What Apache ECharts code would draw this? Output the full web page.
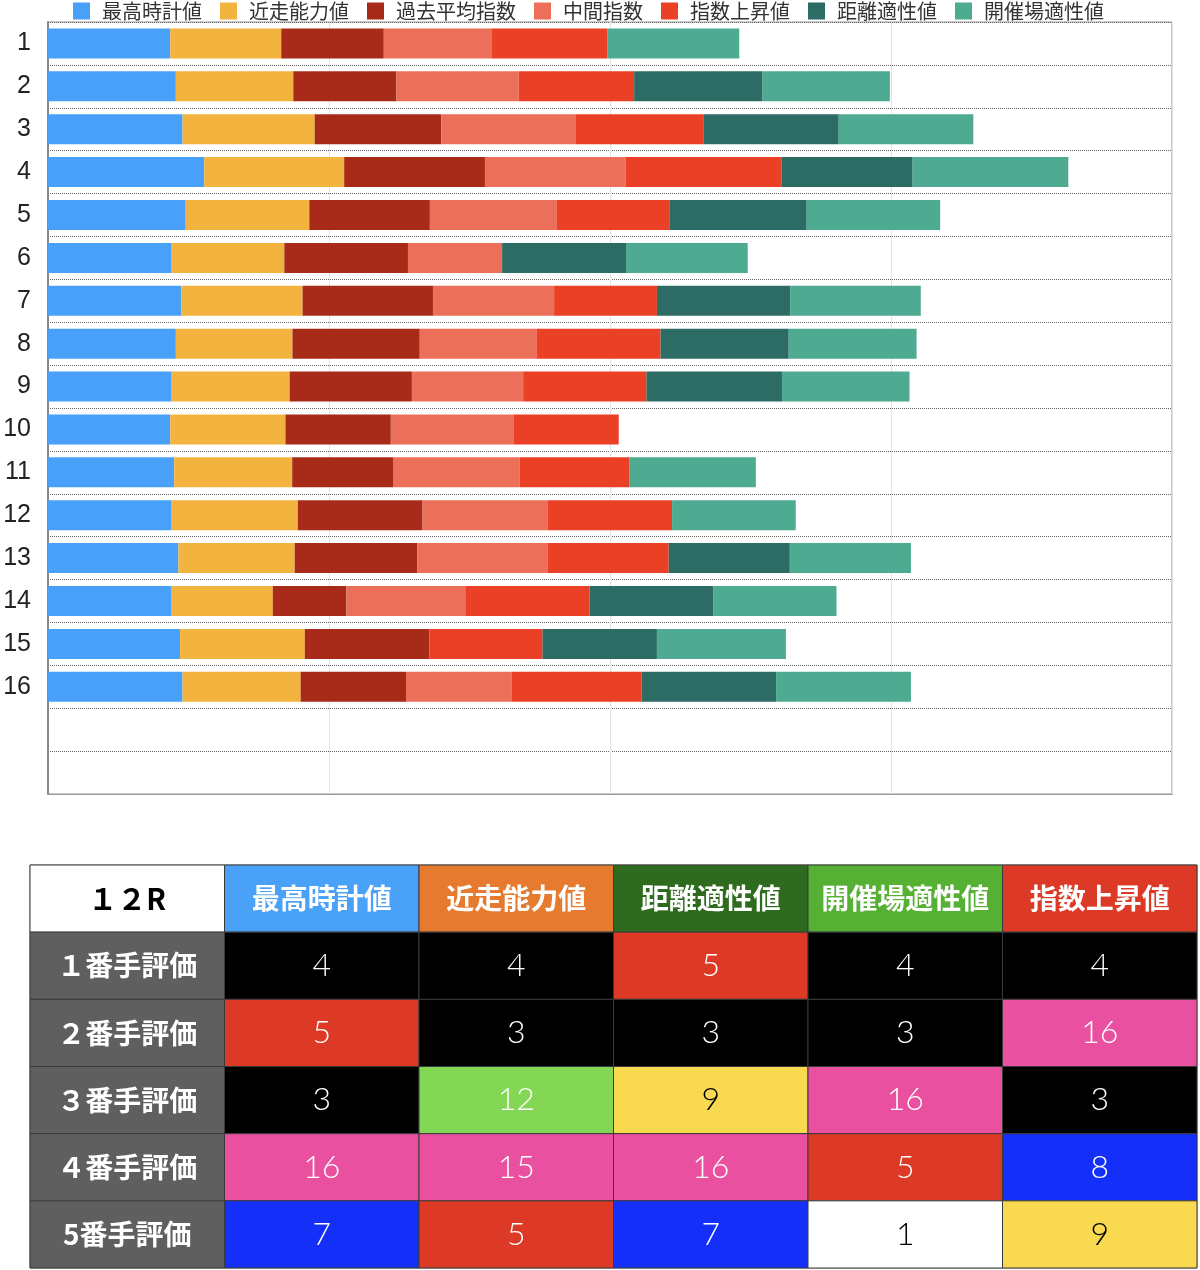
<!DOCTYPE html>
<html>
<head>
<meta charset="utf-8">
<script src="https://cdn.jsdelivr.net/npm/echarts@6/dist/echarts.min.js"></script>
<style>
html,body{margin:0;padding:0;background:#fff;}
#main{width:1200px;height:1270px;}
</style>
</head>
<body>
<div id="main"></div>
<script>
// ---------- data ----------
const categories = ['1','2','3','4','5','6','7','8','9','10','11','12','13','14','15','16','',''];
const seriesNames = ['最高時計値','近走能力値','過去平均指数','中間指数','指数上昇値','距離適性値','開催場適性値'];
const bestTime   = [43.5,45.5,47.9,55.6,49.0,44.0,47.4,45.5,44.0,43.5,44.9,44.0,46.4,44.0,47.0,47.9];
const recentForm = [39.5,41.8,47.0,49.8,44.0,40.1,43.2,41.5,42.0,41.0,42.0,44.9,41.4,36.0,44.4,42.0];
const pastAvg    = [36.5,36.7,45.1,50.1,42.9,44.0,46.4,45.3,43.5,37.5,36.1,44.4,43.7,26.2,44.3,37.5];
const midIndex   = [38.5,43.5,47.9,50.0,45.2,33.5,43.1,41.7,39.6,43.6,44.9,44.6,46.4,42.3,0,37.7];
const indexRise  = [41.0,41.1,45.5,55.5,40.0,0,36.6,44.0,43.9,37.5,39.1,44.2,43.0,44.2,40.3,46.1];
const distance   = [0,45.7,48.0,46.7,48.9,44.1,47.4,45.6,48.2,0,0,0,43.1,44.0,40.7,47.9];
const venue      = [47.0,45.3,47.9,55.4,47.5,43.3,46.5,45.5,45.4,0,44.9,44.0,43.1,43.9,45.9,48.0];
const seriesValues = [bestTime, recentForm, pastAvg, midIndex, indexRise, distance, venue];

const tableCorner = '１２R';
const tableHeaders = ['最高時計値','近走能力値','距離適性値','開催場適性値','指数上昇値'];
const rankLabels = ['１番手評価','２番手評価','３番手評価','４番手評価','5番手評価'];
const rankings = [
  [4,4,5,4,4],
  [5,3,3,3,16],
  [3,12,9,16,3],
  [16,15,16,5,8],
  [7,5,7,1,9]
];

// ---------- styles ----------
const barColors = ['#48a0f8','#f3b33f','#a82b1a','#ec6f5a','#ea4025','#2d6b65','#4eaa90'];
const headerColors = ['#ffffff','#49a1f8','#e67b30','#2f6b1f','#55b034','#dc3a26'];
const frameColors = ['#ffffff','#000000','#dc3a26','#1430f8','#f8d94f','#84d755','#f08a30','#e951a0'];
const frameText   = ['#000000','#ffffff','#ffffff','#ffffff','#000000','#ffffff','#ffffff','#ffffff'];
const jpFont = '"Noto Sans CJK JP", "Noto Sans", sans-serif';

// build table cells
const cells = [];
const cellData = [];
function addCell(col,row,text,bg,fg,font){
  cells.push({text:text,bg:bg,fg:fg,font:font});
  cellData.push([col,row]);
}
addCell(0,0,tableCorner,headerColors[0],'#000','bold 29px '+jpFont);
tableHeaders.forEach((h,i)=>addCell(i+1,0,h,headerColors[i+1],'#fff','bold 28px '+jpFont));
rankLabels.forEach((lab,r)=>{
  addCell(0,r+1,lab,'#5f5f5f','#fff','bold 28px '+jpFont);
  rankings[r].forEach((n,c)=>{
    const f = Math.ceil(n/2)-1;
    addCell(c+1,r+1,String(n),frameColors[f],frameText[f],'300 32px Lato, "Noto Sans", sans-serif');
  });
});

const chart = echarts.init(document.getElementById('main'));
const barSeries = seriesNames.map((name,i)=>({
  name:name, type:'bar', stack:'total', xAxisIndex:0, yAxisIndex:0,
  barWidth:30,
  itemStyle:{color:barColors[i]},
  data:seriesValues[i].map(v=> v===0 ? '-' : v)
}));

chart.setOption({
  animation:false,
  backgroundColor:'#fff',
  textStyle:{fontFamily:jpFont},
  legend:{
    top:1, left:73, padding:0,
    data:seriesNames,
    icon:'rect', itemWidth:17, itemHeight:17, itemGap:18,
    textStyle:{fontSize:20,color:'#333',fontFamily:jpFont,padding:[0,0,0,7]}
  },
  grid:[
    {left:48, top:22, width:1124, height:772, show:true, borderColor:'#999', borderWidth:1},
    {left:30, top:865, width:1167, height:403, show:true, borderColor:'#777', borderWidth:1}
  ],
  xAxis:[
    {type:'value', gridIndex:0, min:0, max:400, interval:100,
     axisLabel:{show:false}, axisTick:{show:false},
     axisLine:{show:true,lineStyle:{color:'#999'}},
     splitLine:{show:true,lineStyle:{color:'#e2e2e2',width:1}}},
    {type:'category', gridIndex:1, data:[0,1,2,3,4,5], show:false}
  ],
  yAxis:[
    {type:'category', gridIndex:0, data:categories, inverse:true,
     axisTick:{show:false},
     axisLine:{show:true,lineStyle:{color:'#888',width:2}},
     axisLabel:{fontSize:25,color:'#222',margin:17,fontFamily:'"Liberation Sans Narrow", "Liberation Sans", Arial, sans-serif'},
     splitLine:{show:true,lineStyle:{color:'#666',type:[1,1],width:1}}},
    {type:'category', gridIndex:1, data:[0,1,2,3,4,5], inverse:true, show:false}
  ],
  series:barSeries.concat([{
    type:'custom', xAxisIndex:1, yAxisIndex:1,
    data:cellData,
    renderItem:function(params, api){
      const p = api.coord([api.value(0), api.value(1)]);
      const s = api.size([1,1]);
      const c = cells[params.dataIndex];
      return {type:'group', children:[
        {type:'rect', shape:{x:p[0]-s[0]/2, y:p[1]-s[1]/2, width:s[0], height:s[1]},
         style:{fill:c.bg, stroke:'#3a3a3a', lineWidth:1}},
        {type:'text', style:{text:c.text, x:p[0], y:p[1], align:'center', verticalAlign:'middle',
         fill:c.fg, font:c.font}}
      ]};
    }
  }])
});
</script>
</body>
</html>
